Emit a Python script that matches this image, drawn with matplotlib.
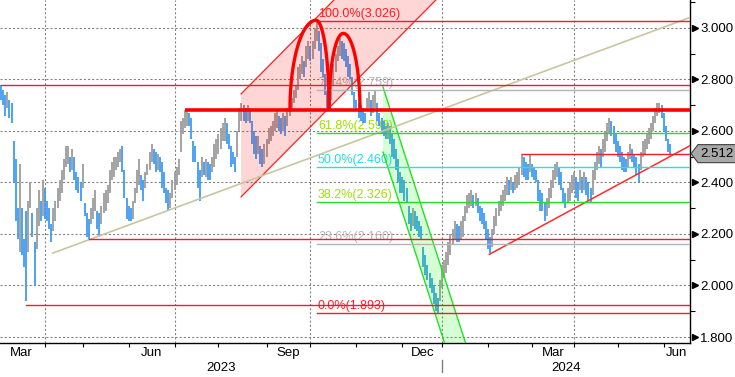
import numpy as np
import pandas as pd
import matplotlib
matplotlib.use("Agg")
import matplotlib.pyplot as plt
from matplotlib.patches import Polygon

plt.rcParams['font.family'] = ['Liberation Sans', 'DejaVu Sans']
plt.rcParams['lines.scale_dashes'] = False

# ---------------- data (German 10y yield, daily bars) ----------------
highs = [
    2.79, 2.78, 2.78, 2.76, 2.74, 2.75, 2.72, 2.71, 2.56, 2.49,
    2.30, 2.47, 2.30, 2.18, 2.29, 2.33, 2.40, 2.28, 2.17, 2.30,
    2.37, 2.33, 2.41, 2.38, 2.33, 2.30, 2.24, 2.30, 2.33, 2.38,
    2.41, 2.45, 2.49, 2.54, 2.54, 2.50, 2.53, 2.50, 2.44, 2.42,
    2.40, 2.47, 2.32, 2.28, 2.26, 2.30, 2.34, 2.37, 2.29, 2.28,
    2.31, 2.36, 2.37, 2.39, 2.45, 2.48, 2.50, 2.50, 2.52, 2.53,
    2.54, 2.45, 2.34, 2.31, 2.30, 2.33, 2.38, 2.45, 2.49, 2.43,
    2.41, 2.44, 2.47, 2.52, 2.55, 2.53, 2.52, 2.51, 2.50, 2.48,
    2.44, 2.38, 2.37, 2.36, 2.41, 2.44, 2.46, 2.49, 2.64, 2.65,
    2.68, 2.68, 2.67, 2.65, 2.56, 2.54, 2.48, 2.45, 2.50, 2.48,
    2.49, 2.48, 2.47, 2.50, 2.55, 2.57, 2.59, 2.61, 2.63, 2.65,
    2.63, 2.59, 2.54, 2.52, 2.50, 2.60, 2.69, 2.71, 2.70, 2.69,
    2.70, 2.69, 2.64, 2.60, 2.58, 2.58, 2.54, 2.53, 2.55, 2.57,
    2.61, 2.62, 2.64, 2.67, 2.68, 2.66, 2.65, 2.67, 2.66, 2.69,
    2.72, 2.73, 2.76, 2.78, 2.85, 2.86, 2.89, 2.87, 2.93, 2.95,
    2.93, 2.95, 3.00, 3.026, 2.99, 2.94, 2.88, 2.82, 2.76, 2.74,
    2.80, 2.86, 2.90, 2.93, 2.96, 2.95, 2.94, 2.92, 2.89, 2.86,
    2.81, 2.75, 2.72, 2.71, 2.70, 2.69, 2.67, 2.73, 2.75, 2.72,
    2.74, 2.76, 2.71, 2.67, 2.65, 2.64, 2.62, 2.63, 2.62, 2.59,
    2.57, 2.53, 2.49, 2.44, 2.42, 2.41, 2.38, 2.31, 2.28, 2.30,
    2.29, 2.27, 2.25, 2.23, 2.15, 2.12, 2.08, 2.05, 2.03, 2.00,
    1.97, 1.95, 2.02, 2.08, 2.10, 2.13, 2.17, 2.20, 2.22, 2.25,
    2.24, 2.23, 2.25, 2.27, 2.31, 2.35, 2.36, 2.37, 2.35, 2.36,
    2.34, 2.31, 2.30, 2.28, 2.25, 2.22, 2.19, 2.22, 2.27, 2.30,
    2.33, 2.35, 2.37, 2.39, 2.42, 2.41, 2.42, 2.40, 2.43, 2.44,
    2.46, 2.51, 2.50, 2.48, 2.47, 2.51, 2.47, 2.46, 2.45, 2.41,
    2.37, 2.36, 2.32, 2.34, 2.38, 2.41, 2.45, 2.47, 2.48, 2.46,
    2.44, 2.38, 2.36, 2.38, 2.40, 2.43, 2.44, 2.42, 2.40, 2.45,
    2.42, 2.44, 2.42, 2.40, 2.38, 2.45, 2.48, 2.52, 2.54, 2.53,
    2.57, 2.60, 2.63, 2.65, 2.64, 2.62, 2.59, 2.56, 2.54, 2.52,
    2.50, 2.49, 2.52, 2.55, 2.53, 2.51, 2.50, 2.47, 2.52, 2.56,
    2.57, 2.59, 2.61, 2.63, 2.66, 2.69, 2.71, 2.71, 2.70, 2.67,
    2.62, 2.57, 2.55,
]
lows = [
    2.74, 2.73, 2.72, 2.70, 2.66, 2.69, 2.65, 2.63, 2.40, 2.25,
    2.18, 2.13, 2.12, 2.07, 1.94, 2.13, 2.30, 2.19, 2.00, 2.14,
    2.23, 2.25, 2.27, 2.26, 2.25, 2.22, 2.17, 2.21, 2.25, 2.30,
    2.33, 2.36, 2.41, 2.46, 2.47, 2.44, 2.45, 2.41, 2.37, 2.36,
    2.33, 2.38, 2.27, 2.19, 2.18, 2.24, 2.26, 2.29, 2.22, 2.19,
    2.24, 2.28, 2.29, 2.32, 2.36, 2.41, 2.42, 2.45, 2.46, 2.48,
    2.44, 2.34, 2.26, 2.25, 2.25, 2.26, 2.32, 2.36, 2.39, 2.37,
    2.33, 2.38, 2.43, 2.45, 2.48, 2.47, 2.44, 2.45, 2.44, 2.38,
    2.36, 2.32, 2.29, 2.30, 2.34, 2.37, 2.39, 2.43, 2.52, 2.59,
    2.61, 2.62, 2.62, 2.57, 2.48, 2.48, 2.38, 2.33, 2.42, 2.43,
    2.42, 2.41, 2.41, 2.44, 2.46, 2.49, 2.51, 2.53, 2.56, 2.56,
    2.55, 2.53, 2.46, 2.47, 2.44, 2.50, 2.60, 2.64, 2.64, 2.63,
    2.64, 2.63, 2.55, 2.51, 2.49, 2.51, 2.47, 2.46, 2.47, 2.50,
    2.55, 2.56, 2.58, 2.60, 2.61, 2.60, 2.59, 2.60, 2.58, 2.62,
    2.66, 2.68, 2.71, 2.73, 2.76, 2.80, 2.82, 2.81, 2.85, 2.88,
    2.87, 2.88, 2.92, 2.95, 2.91, 2.83, 2.81, 2.74, 2.69, 2.68,
    2.72, 2.78, 2.83, 2.87, 2.89, 2.88, 2.87, 2.85, 2.81, 2.80,
    2.74, 2.69, 2.68, 2.65, 2.64, 2.63, 2.63, 2.68, 2.69, 2.66,
    2.67, 2.69, 2.64, 2.62, 2.59, 2.58, 2.57, 2.57, 2.55, 2.50,
    2.49, 2.45, 2.40, 2.36, 2.36, 2.33, 2.32, 2.24, 2.21, 2.23,
    2.22, 2.21, 2.19, 2.18, 2.07, 2.04, 2.02, 1.99, 1.97, 1.93,
    1.90, 1.893, 1.94, 1.99, 2.03, 2.05, 2.08, 2.12, 2.16, 2.18,
    2.17, 2.17, 2.18, 2.19, 2.25, 2.28, 2.30, 2.31, 2.30, 2.31,
    2.28, 2.25, 2.24, 2.22, 2.18, 2.14, 2.126, 2.15, 2.20, 2.23,
    2.27, 2.29, 2.31, 2.33, 2.35, 2.35, 2.37, 2.36, 2.37, 2.38,
    2.39, 2.43, 2.42, 2.41, 2.41, 2.44, 2.42, 2.41, 2.40, 2.33,
    2.29, 2.29, 2.25, 2.27, 2.30, 2.34, 2.38, 2.41, 2.42, 2.39,
    2.37, 2.32, 2.30, 2.32, 2.33, 2.36, 2.37, 2.34, 2.33, 2.37,
    2.36, 2.37, 2.35, 2.33, 2.32, 2.35, 2.41, 2.45, 2.47, 2.46,
    2.50, 2.52, 2.56, 2.59, 2.58, 2.55, 2.52, 2.50, 2.48, 2.45,
    2.44, 2.44, 2.46, 2.49, 2.48, 2.46, 2.43, 2.40, 2.45, 2.50,
    2.51, 2.53, 2.55, 2.57, 2.60, 2.63, 2.66, 2.67, 2.65, 2.60,
    2.56, 2.52, 2.51,
]
last_close = 2.512

holidays = ['2023-04-07', '2023-04-10', '2023-05-01', '2023-12-25', '2023-12-26',
            '2024-01-01', '2024-03-29', '2024-04-01', '2024-05-01']

# Fibonacci retracement (from 3.026 high to 1.893 low)
fib_pcts = ['0.0', '23.6', '38.2', '50.0', '61.8', '76.4', '100.0']
fib_vals = [1.893, 2.160, 2.326, 2.460, 2.593, 2.759, 3.026]
fib_anchor_bar = 153

# horizontal support / resistance: (value, first bar)
sr_values = [2.777, 2.179, 1.923, 2.510]
sr_start = [2, 44, 14, 251]
neck_value = 2.682
neck_start = 90

# double-top arcs: (start bar, start value), (peak bar, peak value), (end bar, end value)
arc1 = [(140.2, 2.682), (152.7, 3.030), (158.9, 2.689)]
arc2 = [(158.9, 2.689), (165.7, 2.979), (173.7, 2.682)]

# rising channel (pink): lower line through two points, upper offset
up_ch_lower = [(116.8, 2.344), (158.0, 2.682)]
up_ch_width = 0.400
# falling channel (green): upper line through two points, lower offset
dn_ch_upper = [(184.7, 2.771), (200.0, 2.386)]
dn_ch_width = 0.253

# trendlines
tan_line = [(26.8, 2.126), (331.6, 3.041)]
red_trend = [(235.6, 2.121), (331.6, 2.543)]

yticks_major = [1.8, 2.0, 2.2, 2.4, 2.6, 2.8, 3.0]
yticks_minor = [1.9, 2.1, 2.3, 2.5, 2.7, 2.9, 3.1]
month_labels = {3: 'Mar', 6: 'Jun', 9: 'Sep', 12: 'Dec'}

# ---------------- figure ----------------
W, H = 735, 377
fig = plt.figure(figsize=(W / 100, H / 100), dpi=100)
ax = fig.add_axes([0, 34 / H, 690 / W, 343 / H])
X_LEFT, X_RIGHT = 1.47, 331.6
ax.set_xlim(X_LEFT, X_RIGHT)
ax.set_ylim(1.7767, 3.1087)

calendar = pd.bdate_range('2023-03-01', '2024-07-31', freq='C', holidays=holidays)
cal_idx = pd.Series(np.arange(len(calendar)), index=calendar)
month_first = cal_idx.groupby([calendar.year, calendar.month]).min()

hi = np.array(highs)
lo = np.array(lows)
idx = np.arange(len(hi))
mid = (hi + lo) / 2
cols = ['#9c9c9c'] + ['#9c9c9c' if mid[k] >= mid[k - 1] else '#3d9bf2' for k in range(1, len(mid))]

grid_kw = dict(color='#808080', lw=0.8, dashes=(1.5, 1.5), zorder=1)
for v in yticks_major:
    ax.axhline(v, **grid_kw)
for (yy, mm), k in month_first.items():
    if mm in (1, 4, 7, 10) and X_LEFT < k < X_RIGHT:
        ax.axvline(k, **grid_kw)

# bars
ax.vlines(idx, lo, hi, colors=cols, lw=1.3, zorder=2)

# rising channel
(ci0, cl0), (ci1, cl1) = up_ch_lower
slope = (cl1 - cl0) / (ci1 - ci0)
cend = 240
poly = [(ci0, cl0), (ci0, cl0 + up_ch_width),
        (cend, cl0 + up_ch_width + slope * (cend - ci0)), (cend, cl0 + slope * (cend - ci0))]
ax.add_patch(Polygon(poly, closed=True, facecolor='#ff0000', alpha=0.16, edgecolor='none', zorder=3))
ax.plot([ci0, cend], [cl0, cl0 + slope * (cend - ci0)], color='#ff2020', lw=0.9, zorder=4)
ax.plot([ci0, cend], [cl0 + up_ch_width, cl0 + up_ch_width + slope * (cend - ci0)],
        color='#ff2020', lw=0.9, zorder=4)

# falling channel
(gi0, gu0), (gi1, gu1) = dn_ch_upper
gs = (gu1 - gu0) / (gi1 - gi0)
gend = 250
poly = [(gi0, gu0), (gend, gu0 + gs * (gend - gi0)),
        (gend, gu0 - dn_ch_width + gs * (gend - gi0)), (gi0, gu0 - dn_ch_width)]
ax.add_patch(Polygon(poly, closed=True, facecolor='#00ff00', alpha=0.16, edgecolor='none', zorder=3))
ax.plot([gi0, gend], [gu0, gu0 + gs * (gend - gi0)], color='#22e022', lw=1.0, zorder=4)
ax.plot([gi0, gend], [gu0 - dn_ch_width, gu0 - dn_ch_width + gs * (gend - gi0)],
        color='#22e022', lw=1.0, zorder=4)

# trendlines
ax.plot(*zip(*tan_line), color='#c8c6a0', lw=1.2, zorder=4)
ax.plot(*zip(*red_trend), color='#ff2a2a', lw=1.1, zorder=4)

# support / resistance
for v, s in zip(sr_values, sr_start):
    ax.plot([s, X_RIGHT], [v, v], color='#ee1c2e', lw=1.0, zorder=4)
ax.plot([neck_start, X_RIGHT], [neck_value, neck_value], color='#ff0000', lw=2.6, zorder=5,
        solid_capstyle='butt')

# fibonacci
fib_line_cols = ['#ff1a1a', '#b4b4b4', '#22dd22', '#22e2e2', '#22dd22', '#b4b4b4', '#ff1a1a']
fib_text_cols = ['#ff2020', '#b8b8b8', '#a0e000', '#22dede', '#a0e000', '#b8b8b8', '#ff2020']
for p, v, lc, tc in zip(fib_pcts, fib_vals, fib_line_cols, fib_text_cols):
    ax.plot([fib_anchor_bar, X_RIGHT], [v, v], color=lc, lw=1.0, zorder=4)
    ax.text(fib_anchor_bar + 0.6, v + 0.004, f'{p}%({v:.3f})', color=tc, fontsize=9,
            ha='left', va='bottom', zorder=1.5)

# arcs
def draw_arc(pts):
    (x0, y0), (xp, yp), (x1, y1) = pts
    t = np.linspace(0, np.pi / 2, 60)
    xl = xp - (xp - x0) * np.cos(t)
    yl = y0 + (yp - y0) * np.sin(t)
    t2 = t[::-1]
    xr = xp + (x1 - xp) * np.cos(t2)
    yr = y1 + (yp - y1) * np.sin(t2)
    ax.plot(np.r_[xl, xr], np.r_[yl, yr], color='#ff0000', lw=2.4, zorder=5)

draw_arc(arc1)
draw_arc(arc2)

# axes styling
for s in ['top', 'left']:
    ax.spines[s].set_visible(False)
for s in ['right', 'bottom']:
    ax.spines[s].set_color('black')
    ax.spines[s].set_linewidth(1.0)

ax.yaxis.tick_right()
ax.set_yticks(yticks_major)
ax.set_yticklabels([f'{v:.3f}' for v in yticks_major])
ax.set_yticks(yticks_minor, minor=True)
ax.tick_params(axis='y', which='major', length=0, pad=7.2, labelsize=9.5, colors='black')
ax.tick_params(axis='y', which='minor', length=3.6, width=0.8, direction='out', colors='black')
ytr = ax.get_yaxis_transform()
ax.plot([1.0068] * len(yticks_major), yticks_major, ls='none', marker='>', ms=5,
        color='black', transform=ytr, clip_on=False)

ticks_x = [k for k in month_first.values if X_LEFT < k < X_RIGHT]
ax.set_xticks(ticks_x)
ax.tick_params(axis='x', length=3, width=0.8, direction='out', labelbottom=False, colors='black')

xtr = ax.get_xaxis_transform()
mf = list(month_first.items())
for n, ((yy, mm), k) in enumerate(mf[:-1]):
    if mm in month_labels:
        nxt = mf[n + 1][1]
        c = (max(k, X_LEFT - 2) + min(nxt, X_RIGHT)) / 2
        if c < X_RIGHT:
            ax.text(c, -0.029, month_labels[mm], transform=xtr, ha='center', va='center',
                    fontsize=9.5, color='black', clip_on=False)
jan24 = month_first[(2024, 1)]
ax.text((X_LEFT + jan24) / 2, -0.073, '2023', transform=xtr, ha='center', va='center',
        fontsize=9.5, color='black')
ax.text((jan24 + X_RIGHT) / 2, -0.073, '2024', transform=xtr, ha='center', va='center',
        fontsize=9.5, color='black')
ax.plot([jan24, jan24], [-0.05, -0.085], transform=xtr, color='#808080', lw=1, clip_on=False)

# price tag
hh = 0.035
tag = [(1.0015, last_close), (1.0116, last_close + hh), (1.08, last_close + hh),
       (1.08, last_close - hh), (1.0116, last_close - hh)]
ax.add_patch(Polygon(tag, closed=True, transform=ytr, facecolor='#a8a8a8',
                     edgecolor='#404040', lw=0.8, clip_on=False, zorder=6))
ax.text(1.0145, last_close, f'{last_close:.3f}', transform=ytr, ha='left', va='center',
        fontsize=9.5, color='black', zorder=7, clip_on=False)

fig.savefig('out.png', dpi=100)
